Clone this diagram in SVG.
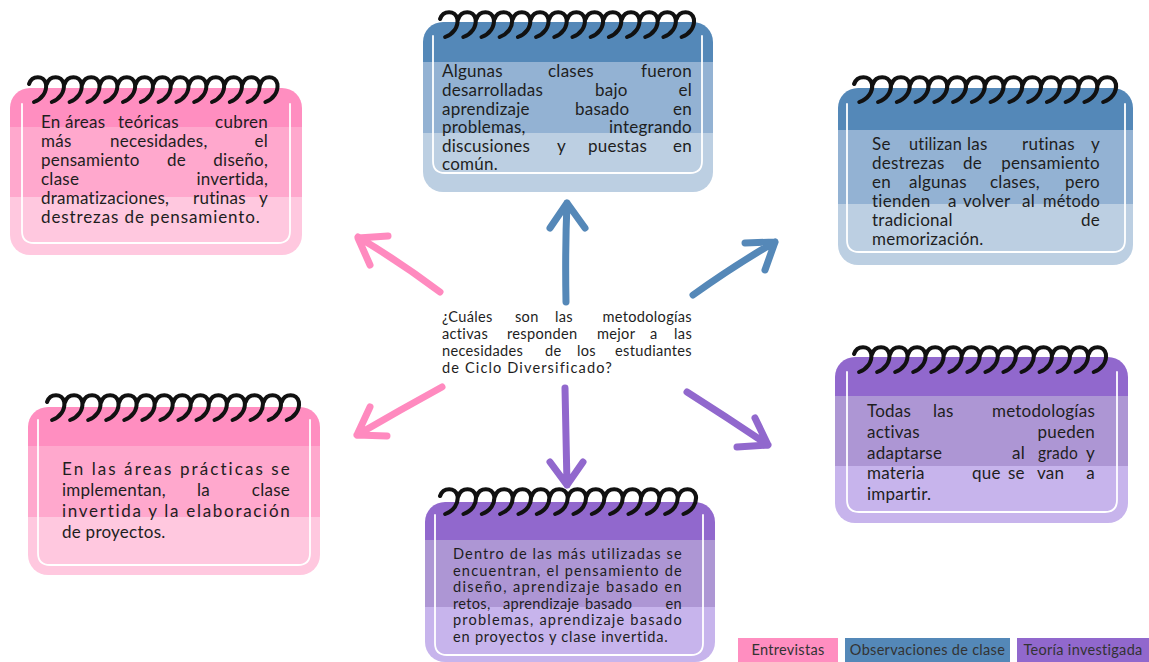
<svg xmlns="http://www.w3.org/2000/svg" xmlns:xlink="http://www.w3.org/1999/xlink" width="1149" height="662" viewBox="0 0 1149 662">
<style>
.t{font-family:Lato,"Open Sans","DejaVu Sans",sans-serif;fill:#1e1e1e}
.f17{font-size:17px;letter-spacing:0.25px}
.f15{font-size:14.6px;letter-spacing:0.3px}
.e{text-anchor:end}
.ol{fill:none;stroke:#fff;stroke-width:1.8;stroke-linecap:round}
.coil{fill:none;stroke:#111;stroke-width:4;stroke-linecap:round}
.arrow{fill:none;stroke-width:7;stroke-linecap:round;stroke-linejoin:round}
.lg{font-family:Lato,"Open Sans",sans-serif;font-size:14.5px;letter-spacing:0.3px;fill:#333;text-anchor:middle}
</style>
<defs>
<linearGradient id="gPink" x1="0" y1="0" x2="0" y2="1">
<stop offset="0" stop-color="#FF8EC0"/><stop offset="0.235" stop-color="#FF8EC0"/>
<stop offset="0.235" stop-color="#FFA8CD"/><stop offset="0.655" stop-color="#FFA8CD"/>
<stop offset="0.655" stop-color="#FFC8DF"/><stop offset="1" stop-color="#FFC8DF"/>
</linearGradient>
<linearGradient id="gBlue" x1="0" y1="0" x2="0" y2="1">
<stop offset="0" stop-color="#5488B8"/><stop offset="0.235" stop-color="#5488B8"/>
<stop offset="0.235" stop-color="#93B2D3"/><stop offset="0.655" stop-color="#93B2D3"/>
<stop offset="0.655" stop-color="#BCCFE2"/><stop offset="1" stop-color="#BCCFE2"/>
</linearGradient>
<linearGradient id="gPurple" x1="0" y1="0" x2="0" y2="1">
<stop offset="0" stop-color="#9168CD"/><stop offset="0.235" stop-color="#9168CD"/>
<stop offset="0.235" stop-color="#AD96D4"/><stop offset="0.655" stop-color="#AD96D4"/>
<stop offset="0.655" stop-color="#C7B4EC"/><stop offset="1" stop-color="#C7B4EC"/>
</linearGradient>
<path id="c" class="coil" d="M2,9 C5,0 17,0 19,9 C20,17 15,24 7,27"/>
<g id="spiral">
<use xlink:href="#c" x="0"/><use xlink:href="#c" x="17.8"/><use xlink:href="#c" x="35.6"/><use xlink:href="#c" x="53.4"/><use xlink:href="#c" x="71.2"/><use xlink:href="#c" x="89"/><use xlink:href="#c" x="106.8"/><use xlink:href="#c" x="124.6"/><use xlink:href="#c" x="142.4"/><use xlink:href="#c" x="160.2"/><use xlink:href="#c" x="178"/><use xlink:href="#c" x="195.8"/><use xlink:href="#c" x="213.6"/><use xlink:href="#c" x="231.4"/>
</g>
</defs>
<rect width="1149" height="662" fill="#fff"/>

<g id="connectors">
<path class="arrow" stroke="#FF8ABF" d="M440,292 Q400,262 358,237 M388,236 L358,238 L370,265"/>
<path class="arrow" stroke="#5588B8" d="M566,302 Q565,250 567,203 M550,228 L567,203 L585,228"/>
<path class="arrow" stroke="#5588B8" d="M693,295 Q735,265 775,242 M745,243 L775,242 L765,270"/>
<path class="arrow" stroke="#FF8ABF" d="M442,387 Q400,410 357,435 M370,407 L357,435 L387,436"/>
<path class="arrow" stroke="#9168CD" d="M565,388 Q566,440 567,485 M550,462 L567,485 L583,462"/>
<path class="arrow" stroke="#9168CD" d="M687,392 Q728,418 768,445 M755,418 L768,445 L737,447"/>
</g>

<g id="center">
<text class="t f15"><tspan x="442" y="322">¿Cuáles</tspan><tspan x="515" y="322">son</tspan><tspan x="555" y="322">las</tspan><tspan class="e" x="692" y="322">metodologías</tspan></text>
<text class="t f15"><tspan x="442" y="339">activas</tspan><tspan x="507" y="339">responden</tspan><tspan x="597" y="339">mejor</tspan><tspan x="650" y="339">a</tspan><tspan class="e" x="692" y="339">las</tspan></text>
<text class="t f15"><tspan x="442" y="356">necesidades</tspan><tspan x="545" y="356">de</tspan><tspan x="577" y="356">los</tspan><tspan class="e" x="692" y="356">estudiantes</tspan></text>
<text class="t f15" x="442" y="373" textLength="170" lengthAdjust="spacing">de Ciclo Diversificado?</text>
</g>

<g id="note-tl">
<rect x="10" y="88" width="292" height="167" rx="20" fill="url(#gPink)"/>
<path class="ol" d="M22,104 V231 Q22,243 34,243 H278 Q290,243 290,231 V104"/>
<use xlink:href="#spiral" transform="translate(27,75)"/>
<text class="t f17"><tspan x="41" y="128">En</tspan><tspan x="65" y="128">áreas</tspan><tspan x="118" y="128">teóricas</tspan><tspan class="e" x="268" y="128">cubren</tspan></text>
<text class="t f17"><tspan x="41" y="147">más</tspan><tspan x="110" y="147">necesidades,</tspan><tspan class="e" x="268" y="147">el</tspan></text>
<text class="t f17"><tspan x="41" y="166">pensamiento</tspan><tspan x="167" y="166">de</tspan><tspan class="e" x="268" y="166">diseño,</tspan></text>
<text class="t f17"><tspan x="41" y="185">clase</tspan><tspan class="e" x="268" y="185">invertida,</tspan></text>
<text class="t f17"><tspan x="41" y="204">dramatizaciones,</tspan><tspan x="193" y="204">rutinas</tspan><tspan class="e" x="268" y="204">y</tspan></text>
<text class="t f17" x="41" y="223" textLength="219" lengthAdjust="spacing">destrezas de pensamiento.</text>
</g>

<g id="note-tc">
<rect x="423" y="22" width="290" height="170" rx="20" fill="url(#gBlue)"/>
<path class="ol" d="M433,36 V161 Q433,173 445,173 H690 Q702,173 702,161 V36"/>
<use xlink:href="#spiral" transform="translate(438,10) scale(1.022,1)"/>
<text class="t f17"><tspan x="442" y="77">Algunas</tspan><tspan x="548" y="77">clases</tspan><tspan class="e" x="692" y="77">fueron</tspan></text>
<text class="t f17"><tspan x="442" y="96">desarrolladas</tspan><tspan x="595" y="96">bajo</tspan><tspan class="e" x="692" y="96">el</tspan></text>
<text class="t f17"><tspan x="442" y="115">aprendizaje</tspan><tspan x="575" y="115">basado</tspan><tspan class="e" x="692" y="115">en</tspan></text>
<text class="t f17"><tspan x="442" y="133">problemas,</tspan><tspan class="e" x="692" y="133">integrando</tspan></text>
<text class="t f17"><tspan x="442" y="152">discusiones</tspan><tspan x="557" y="152">y</tspan><tspan x="588" y="152">puestas</tspan><tspan class="e" x="692" y="152">en</tspan></text>
<text class="t f17" x="442" y="170">común.</text>
</g>

<g id="note-tr">
<rect x="838" y="88" width="295" height="177" rx="20" fill="url(#gBlue)"/>
<path class="ol" d="M847,104 V240 Q847,252 859,252 H1113 Q1125,252 1125,240 V104"/>
<use xlink:href="#spiral" transform="translate(852,75) scale(1.054,1)"/>
<text class="t f17"><tspan x="872" y="150">Se</tspan><tspan x="909" y="150" textLength="53" lengthAdjust="spacingAndGlyphs">utilizan</tspan><tspan x="967" y="150">las</tspan><tspan x="1022" y="150">rutinas</tspan><tspan class="e" x="1100" y="150">y</tspan></text>
<text class="t f17"><tspan x="872" y="169">destrezas</tspan><tspan x="963" y="169">de</tspan><tspan class="e" x="1100" y="169">pensamiento</tspan></text>
<text class="t f17"><tspan x="872" y="188">en</tspan><tspan x="909" y="188">algunas</tspan><tspan x="990" y="188">clases,</tspan><tspan class="e" x="1100" y="188">pero</tspan></text>
<text class="t f17"><tspan x="872" y="207">tienden</tspan><tspan x="948" y="207">a</tspan><tspan x="963" y="207">volver</tspan><tspan x="1022" y="207">al</tspan><tspan x="1043" y="207" textLength="57" lengthAdjust="spacingAndGlyphs">método</tspan></text>
<text class="t f17"><tspan x="872" y="226">tradicional</tspan><tspan class="e" x="1100" y="226">de</tspan></text>
<text class="t f17" x="872" y="245">memorización.</text>
</g>

<g id="note-bl">
<rect x="28" y="407" width="292" height="168" rx="20" fill="url(#gPink)"/>
<path class="ol" d="M38,420 V553 Q38,565 50,565 H298 Q310,565 310,553 V420"/>
<use xlink:href="#spiral" transform="translate(45,393) scale(1.014,1)"/>
<text class="t f17" x="62" y="475" textLength="228" lengthAdjust="spacing">En las áreas prácticas se</text>
<text class="t f17"><tspan x="62" y="496">implementan,</tspan><tspan x="197" y="496">la</tspan><tspan class="e" x="290" y="496">clase</tspan></text>
<text class="t f17" x="62" y="517" textLength="228" lengthAdjust="spacing">invertida y la elaboración</text>
<text class="t f17" x="62" y="538">de proyectos.</text>
</g>

<g id="note-bc">
<rect x="425" y="502" width="290" height="160" rx="20" fill="url(#gPurple)"/>
<path class="ol" d="M435,515 V643 Q435,655 447,655 H691 Q703,655 703,643 V515"/>
<use xlink:href="#spiral" transform="translate(438,487) scale(1.03,1)"/>
<text class="t f15" x="453" y="559" textLength="229" lengthAdjust="spacing">Dentro de las más utilizadas se</text>
<text class="t f15" x="453" y="575.5" textLength="229" lengthAdjust="spacing">encuentran, el pensamiento de</text>
<text class="t f15" x="453" y="592" textLength="229" lengthAdjust="spacing">diseño, aprendizaje basado en</text>
<text class="t f15"><tspan x="453" y="608.5">retos,</tspan><tspan x="503" y="608.5">aprendizaje</tspan><tspan x="585" y="608.5">basado</tspan><tspan class="e" x="682" y="608.5">en</tspan></text>
<text class="t f15" x="453" y="625" textLength="229" lengthAdjust="spacing">problemas, aprendizaje basado</text>
<text class="t f15" x="453" y="641.5" textLength="215" lengthAdjust="spacing">en proyectos y clase invertida.</text>
</g>

<g id="note-br">
<rect x="835" y="357" width="293" height="166" rx="20" fill="url(#gPurple)"/>
<path class="ol" d="M847,372 V500 Q847,512 859,512 H1105 Q1117,512 1117,500 V372"/>
<use xlink:href="#spiral" transform="translate(852,345) scale(1.014,1)"/>
<text class="t f17"><tspan x="867" y="417">Todas</tspan><tspan x="933" y="417">las</tspan><tspan class="e" x="1095" y="417">metodologías</tspan></text>
<text class="t f17"><tspan x="867" y="438">activas</tspan><tspan class="e" x="1095" y="438">pueden</tspan></text>
<text class="t f17"><tspan x="867" y="458.5">adaptarse</tspan><tspan x="1012" y="458.5">al</tspan><tspan x="1038" y="458.5" textLength="40" lengthAdjust="spacingAndGlyphs">grado</tspan><tspan class="e" x="1095" y="458.5">y</tspan></text>
<text class="t f17"><tspan x="867" y="479">materia</tspan><tspan x="972" y="479">que</tspan><tspan x="1008" y="479">se</tspan><tspan x="1037" y="479">van</tspan><tspan class="e" x="1095" y="479">a</tspan></text>
<text class="t f17" x="867" y="500">impartir.</text>
</g>

<g id="legend">
<rect x="738" y="638" width="100" height="24" fill="#FF8EC0"/>
<text class="lg" x="788" y="655">Entrevistas</text>
<rect x="845" y="638" width="165" height="24" fill="#5488B8"/>
<text class="lg" x="927.5" y="655">Observaciones de clase</text>
<rect x="1017" y="638" width="132" height="24" fill="#9168CD"/>
<text class="lg" x="1083" y="655">Teoría investigada</text>
</g>
</svg>
